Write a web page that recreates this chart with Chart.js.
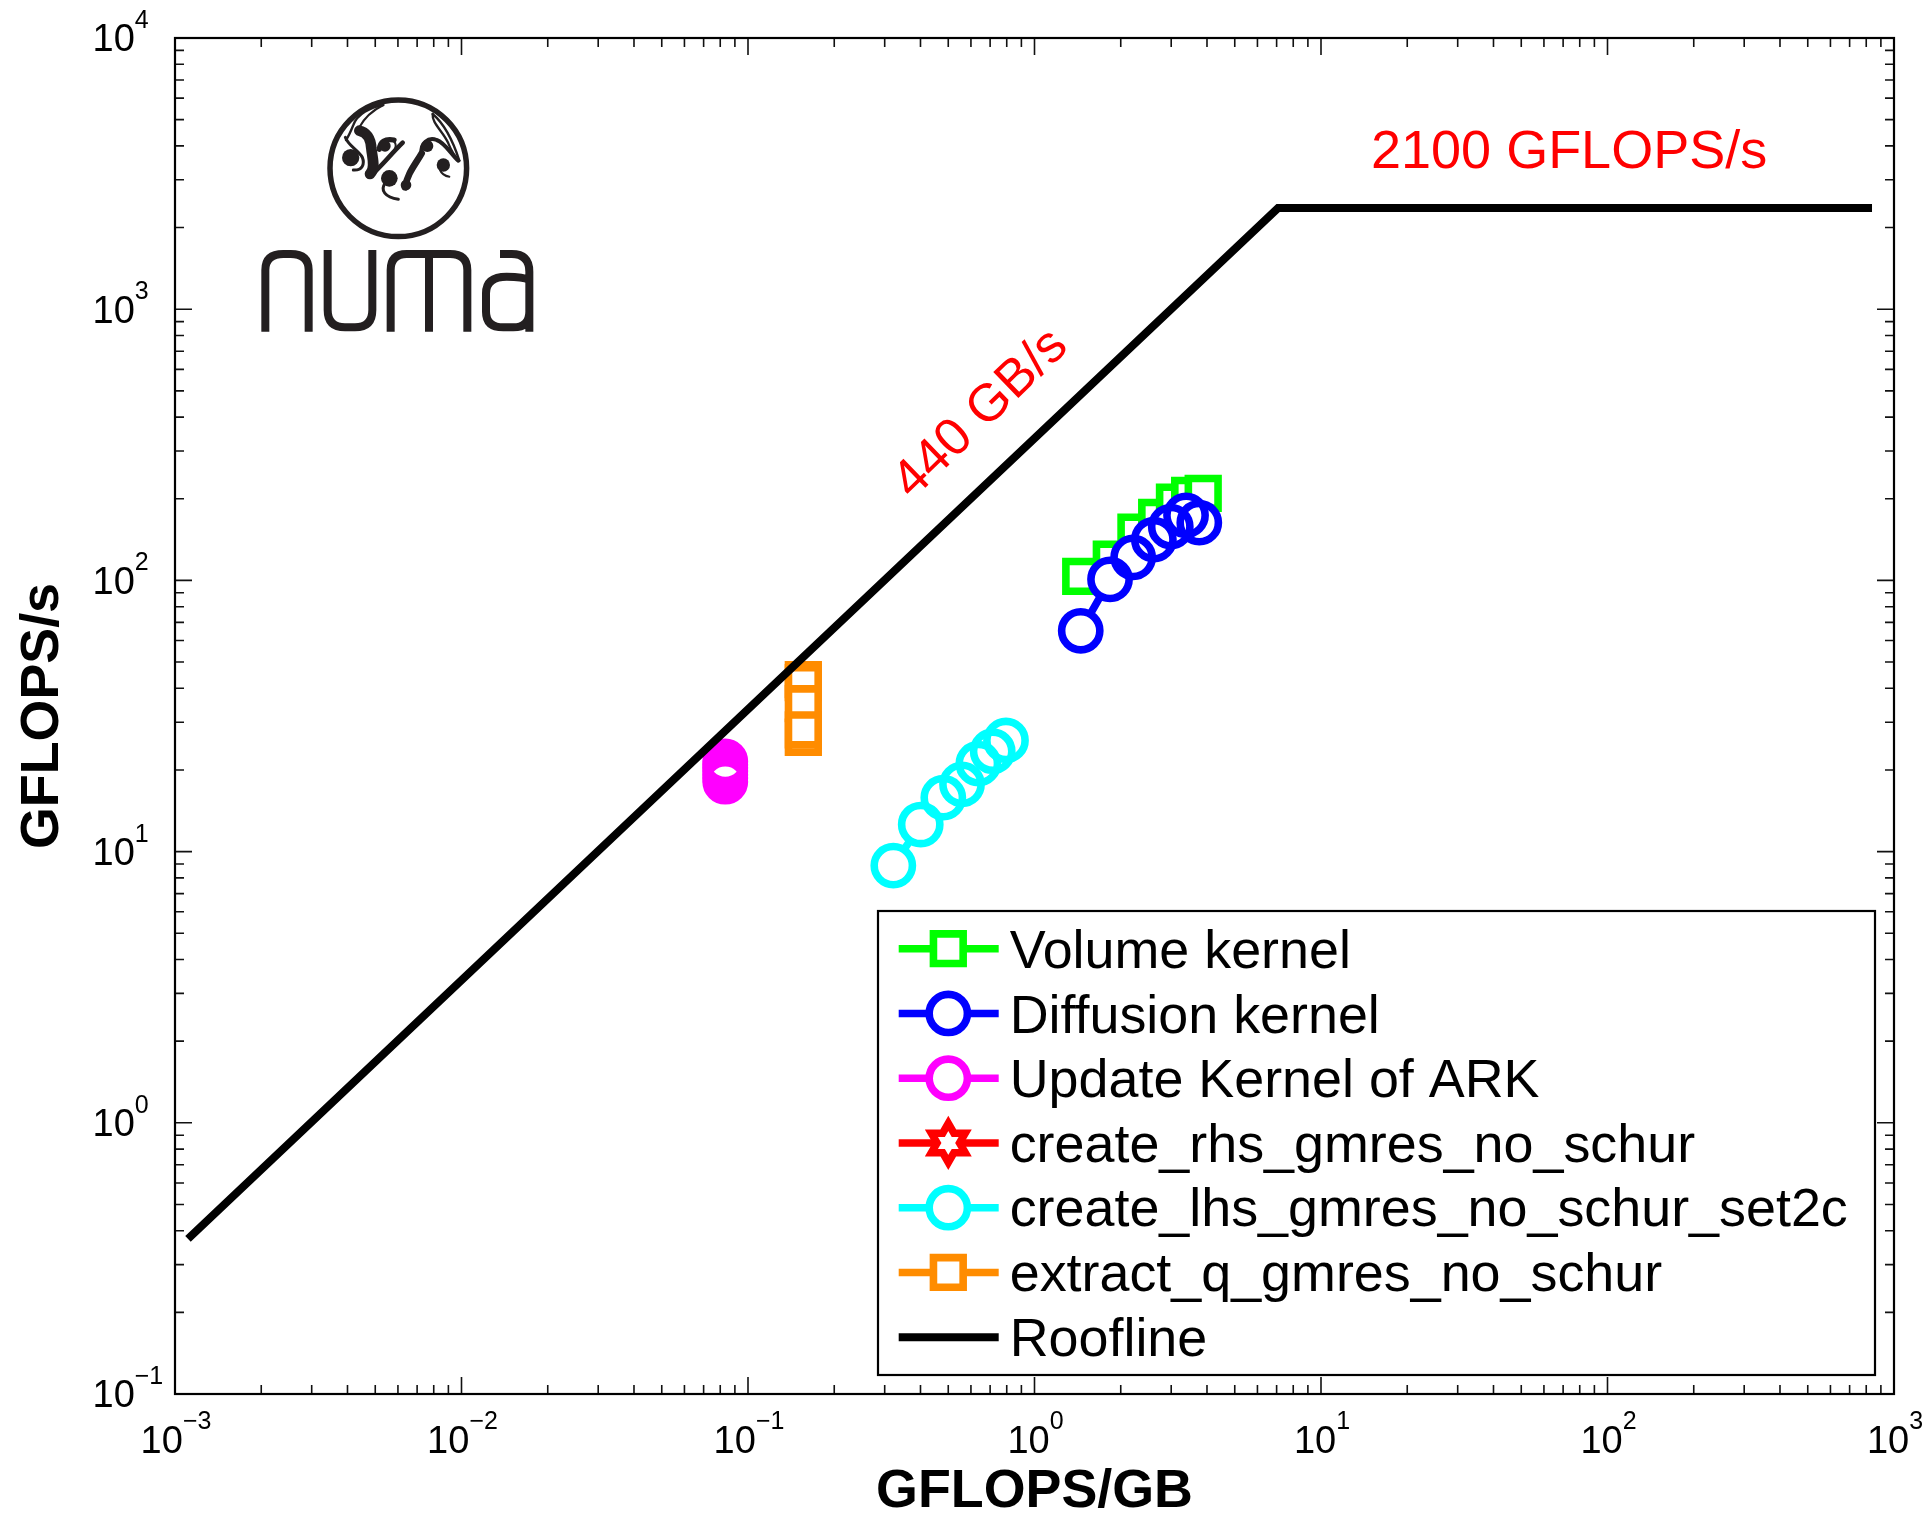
<!DOCTYPE html>
<html lang="en">
<head>
    <meta charset="UTF-8">
    <title>Roofline</title>
    <script src="https://cdn.jsdelivr.net/npm/chart.js"></script>
    <style>
        body {
            margin: 0;
            background: white;
        }
    </style>
</head>
<body>
    <canvas id="roofline" width="1927" height="1515"></canvas>

    <script>
        const volumeX = [1.45, 1.854, 2.26, 2.67, 3.08, 3.48, 3.88];
        const volumeY = [103.5, 119.8, 150.7, 170.8, 194.5, 205.9, 209.4];
        const diffusionX = [1.45, 1.835, 2.21, 2.61, 2.99, 3.38, 3.76];
        const diffusionY = [65.2, 100.9, 121.6, 141.3, 157.8, 173.7, 163.3];
        const updateX = [0.0833, 0.0833, 0.0833, 0.0833, 0.0833, 0.0833, 0.0833];
        const updateY = [21.5, 20.9, 20.4, 19.8, 19.2, 18.7, 18.1];
        const rhsX = [];
        const rhsY = [];
        const lhsX = [0.3215, 0.4008, 0.4805, 0.5585, 0.6368, 0.7146, 0.7952];
        const lhsY = [8.88, 12.58, 15.82, 17.7, 21.1, 23.45, 25.7];
        const extractX = [0.156, 0.156, 0.156, 0.156, 0.156];
        const extractY = [43.1, 42.0, 35.1, 26.4, 28.1];
        const roofX = [0.00111, 7.08, 838];
        const roofY = [0.373, 2360, 2360];

        const xDecades = [1e-3, 1e-2, 1e-1, 1, 10, 100, 1000];
        const xExponents = ["\u22123", "\u22122", "\u22121", "0", "1", "2", "3"];
        const yDecades = [1e-1, 1, 10, 100, 1000, 10000];
        const yExponents = ["\u22121", "0", "1", "2", "3", "4"];
        const minorSteps = [2, 3, 4, 5, 6, 7, 8, 9];

        const seriesNames = ["Volume kernel", "Diffusion kernel", "Update Kernel of ARK",
            "create_rhs_gmres_no_schur", "create_lhs_gmres_no_schur_set2c",
            "extract_q_gmres_no_schur", "Roofline"];
        const seriesColors = ["#00ff00", "#0000ff", "#ff00ff", "#ff0000", "#00ffff", "#ff8c00", "#000000"];
        const seriesMarkers = ["rect", "circle", "circle", "star", "circle", "rect", null];

        const fontName = '"Liberation Sans", Arial, sans-serif';
        const LINE_W = 7.6;
        const ROOF_W = 8;
        const CIRCLE_R = 19.1;
        const SQUARE_R = 21;

        function toPoints(xs, ys) {
            return xs.map(function (x, i) { return { x: x, y: ys[i] }; });
        }

        // Squares are drawn one after the other, each white face hides the one before.
        function squareSeries(i, xs, ys) {
            return [{
                label: seriesNames[i],
                data: toPoints(xs, ys),
                borderColor: seriesColors[i],
                borderWidth: LINE_W,
                pointStyle: "rect",
                pointRadius: SQUARE_R,
                pointBackgroundColor: "white",
                pointBorderColor: seriesColors[i],
                pointBorderWidth: LINE_W,
                order: 100 - 2 * i
            }];
        }

        // Circles: line and white faces first, then all the rings on top.
        function circleSeries(i, xs, ys) {
            const pts = toPoints(xs, ys);
            return [{
                label: seriesNames[i],
                data: pts,
                borderColor: seriesColors[i],
                borderWidth: LINE_W,
                pointRadius: CIRCLE_R,
                pointBackgroundColor: "white",
                pointBorderWidth: 0,
                order: 100 - 2 * i
            }, {
                label: seriesNames[i] + " markers",
                data: pts,
                showLine: false,
                pointRadius: CIRCLE_R,
                pointBackgroundColor: "transparent",
                pointBorderColor: seriesColors[i],
                pointBorderWidth: LINE_W,
                order: 99 - 2 * i
            }];
        }

        const datasets = [].concat(
            squareSeries(0, volumeX, volumeY),
            circleSeries(1, diffusionX, diffusionY),
            circleSeries(2, updateX, updateY),
            circleSeries(3, rhsX, rhsY),
            circleSeries(4, lhsX, lhsY),
            squareSeries(5, extractX, extractY),
            [{
                label: seriesNames[6],
                data: toPoints(roofX, roofY),
                borderColor: seriesColors[6],
                borderWidth: ROOF_W,
                borderCapStyle: "butt",
                borderJoinStyle: "miter",
                pointRadius: 0,
                order: 80
            }]
        );

        function logTicks(decades) {
            const ticks = [];
            decades.forEach(function (d, i) {
                ticks.push({ value: d, major: true });
                if (i < decades.length - 1) {
                    minorSteps.forEach(function (m) { ticks.push({ value: d * m, major: false }); });
                }
            });
            return ticks;
        }

        // Box round the plot with inward ticks on all four sides
        function drawFrame(chart) {
            const ctx = chart.ctx;
            const a = chart.chartArea;
            ctx.save();
            ctx.strokeStyle = "#111";
            ctx.lineWidth = 1.6;
            ctx.beginPath();
            chart.scales.x.ticks.forEach(function (t) {
                const px = chart.scales.x.getPixelForValue(t.value);
                const len = t.major ? 17 : 9;
                ctx.moveTo(px, a.bottom);
                ctx.lineTo(px, a.bottom - len);
                ctx.moveTo(px, a.top);
                ctx.lineTo(px, a.top + len);
            });
            chart.scales.y.ticks.forEach(function (t) {
                const py = chart.scales.y.getPixelForValue(t.value);
                const len = t.major ? 17 : 9;
                ctx.moveTo(a.left, py);
                ctx.lineTo(a.left + len, py);
                ctx.moveTo(a.right, py);
                ctx.lineTo(a.right - len, py);
            });
            ctx.stroke();
            ctx.strokeStyle = "#000";
            ctx.lineWidth = 2.2;
            ctx.strokeRect(a.left, a.top, a.right - a.left, a.bottom - a.top);
            ctx.restore();
        }

        function drawPower(ctx, x, y, exponent) {
            ctx.font = "38px " + fontName;
            ctx.fillText("10", x, y);
            const w = ctx.measureText("10").width;
            ctx.font = "25px " + fontName;
            ctx.fillText(exponent, x + w, y - 23.5);
        }

        function drawTickLabels(chart) {
            const ctx = chart.ctx;
            ctx.save();
            ctx.fillStyle = "#000";
            ctx.textAlign = "left";
            ctx.textBaseline = "alphabetic";
            xDecades.forEach(function (d, i) {
                ctx.font = "25px " + fontName;
                const expW = ctx.measureText(xExponents[i]).width;
                ctx.font = "38px " + fontName;
                const w = ctx.measureText("10").width + expW;
                drawPower(ctx, chart.scales.x.getPixelForValue(d) - w / 2 + 1, 1452.7, xExponents[i]);
            });
            yDecades.forEach(function (d, i) {
                drawPower(ctx, 92.5, chart.scales.y.getPixelForValue(d) + 13.4, yExponents[i]);
            });
            ctx.restore();
        }

        function drawStar(ctx, x, y) {
            const outer = 19.5;
            const inner = outer / Math.sqrt(3);
            ctx.beginPath();
            for (let k = 0; k < 12; k++) {
                const r = k % 2 === 0 ? outer : inner;
                const ang = -Math.PI / 2 + k * Math.PI / 6;
                ctx.lineTo(x + r * Math.cos(ang), y + r * Math.sin(ang));
            }
            ctx.closePath();
            ctx.fillStyle = "white";
            ctx.fill();
            ctx.miterLimit = 10;
            ctx.stroke();
        }

        function drawLegend(chart) {
            const ctx = chart.ctx;
            ctx.save();
            ctx.fillStyle = "white";
            ctx.fillRect(878, 911, 997, 464);
            ctx.strokeStyle = "#000";
            ctx.lineWidth = 2.2;
            ctx.strokeRect(878, 911, 997, 464);

            seriesNames.forEach(function (name, i) {
                const y = 948.7 + i * 64.75;
                ctx.strokeStyle = seriesColors[i];
                ctx.lineWidth = i === 6 ? ROOF_W : LINE_W;
                ctx.beginPath();
                ctx.moveTo(898.7, y);
                ctx.lineTo(998.7, y);
                ctx.stroke();

                const marker = seriesMarkers[i];
                if (marker === "star") {
                    drawStar(ctx, 948.3, y);
                } else if (marker) {
                    ctx.fillStyle = "white";
                    Chart.helpers.drawPoint(ctx, {
                        pointStyle: marker,
                        radius: marker === "rect" ? SQUARE_R : CIRCLE_R,
                        rotation: 0,
                        borderWidth: LINE_W
                    }, 948.3, y);
                }

                ctx.fillStyle = "#000";
                ctx.font = "53.85px " + fontName;
                ctx.textAlign = "left";
                ctx.textBaseline = "alphabetic";
                ctx.fillText(name, 1009.7, 968 + i * 64.6);
            });
            ctx.restore();
        }

        function drawNotes(chart) {
            const ctx = chart.ctx;
            ctx.save();
            ctx.fillStyle = "#ff0000";
            ctx.font = "54px " + fontName;
            ctx.textBaseline = "alphabetic";
            ctx.textAlign = "left";
            ctx.fillText("2100 GFLOPS/s", 1371, 168);
            ctx.translate(981, 414);
            ctx.rotate(-44 * Math.PI / 180);
            ctx.font = "52.5px " + fontName;
            ctx.textAlign = "center";
            ctx.textBaseline = "middle";
            ctx.fillText("440 GB/s", 0, 0);
            ctx.restore();
        }

        // NUMA logo, hand traced. Letters are in 3x coordinates from (230,80), swirl from (320,90)
        const logoLetters = [
            "M106 755 V570 Q106 522 160 522 H182 Q236 522 236 570 V755",
            "M293 510 V690 Q293 742 345 742 H375 Q427 742 427 690 V510",
            "M482 755 V570 Q482 522 530 522 H660 Q712 522 712 570 V755 M597 522 V755",
            "M898 755 V575 Q898 522 845 522 H810 M898 600 Q880 590 830 590 Q768 590 768 640 V695 Q768 742 820 742 H850 Q898 742 898 695"
        ];
        const swirlStrokes = [
            ["M190 45 C150 52 112 72 100 105 C92 125 85 140 78 150", 7],
            ["M190 45 C160 60 135 80 118 112", 6],
            ["M118 122 C138 125 152 145 154 175 C157 205 168 235 150 252", 32],
            ["M76 142 C85 168 112 178 127 202 C135 222 127 242 100 240", 9],
            ["M150 258 C175 240 210 195 248 158", 14],
            ["M178 178 C180 155 195 145 222 150", 16],
            ["M212 150 C232 155 230 172 218 188", 6],
            ["M195 280 C180 300 195 322 235 328", 9],
            ["M255 292 C262 250 285 225 305 190", 20],
            ["M305 190 C300 160 325 140 350 150 C375 158 395 195 415 212", 12],
            ["M338 72 C335 100 370 125 385 160 C395 185 405 200 418 212", 7],
            ["M338 72 C365 95 395 140 418 212", 7],
            ["M360 240 C365 252 375 258 388 260", 6]
        ];
        const swirlBlobs = [[92, 203, 26], [195, 168, 17], [208, 265, 25], [258, 285, 16], [322, 168, 18], [370, 225, 20]];

        function drawLogo(chart) {
            const ctx = chart.ctx;
            ctx.save();
            ctx.strokeStyle = "#231f20";
            ctx.fillStyle = "#231f20";
            ctx.lineWidth = 5.5;
            ctx.beginPath();
            ctx.arc(398.3, 168.3, 68.3, 0, Math.PI * 2);
            ctx.stroke();

            ctx.save();
            ctx.translate(230, 80);
            ctx.scale(1 / 3, 1 / 3);
            ctx.lineWidth = 24;
            logoLetters.forEach(function (p) { ctx.stroke(new Path2D(p)); });
            ctx.restore();

            ctx.save();
            ctx.translate(320, 90);
            ctx.scale(1 / 3, 1 / 3);
            ctx.lineCap = "round";
            swirlStrokes.forEach(function (s) {
                ctx.lineWidth = s[1];
                ctx.stroke(new Path2D(s[0]));
            });
            swirlBlobs.forEach(function (b) {
                ctx.beginPath();
                ctx.arc(b[0], b[1], b[2], 0, Math.PI * 2);
                ctx.fill();
            });
            ctx.restore();
            ctx.restore();
        }

        const decorations = {
            id: "decorations",
            afterDatasetsDraw: function (chart) {
                drawFrame(chart);
                drawTickLabels(chart);
                drawLogo(chart);
                drawNotes(chart);
                drawLegend(chart);
            }
        };

        new Chart(document.getElementById("roofline").getContext("2d"), {
            type: "line",
            data: { datasets: datasets },
            plugins: [decorations],
            options: {
                responsive: false,
                animation: false,
                parsing: false,
                layout: { padding: { top: 38, right: 33, left: 0, bottom: 0 } },
                plugins: { legend: { display: false }, tooltip: { enabled: false } },
                scales: {
                    x: {
                        type: "logarithmic",
                        min: 1e-3,
                        max: 1e3,
                        grid: { display: false },
                        border: { display: false },
                        ticks: { display: false, autoSkip: false },
                        afterBuildTicks: function (scale) { scale.ticks = logTicks(xDecades); },
                        afterFit: function (scale) { scale.height = 121; },
                        title: {
                            display: true,
                            text: "GFLOPS/GB",
                            color: "#000",
                            font: { family: fontName, size: 53.8, weight: "bold", lineHeight: 0.8 },
                            padding: { top: 0, bottom: 1 }
                        }
                    },
                    y: {
                        type: "logarithmic",
                        min: 1e-1,
                        max: 1e4,
                        grid: { display: false },
                        border: { display: false },
                        ticks: { display: false, autoSkip: false },
                        afterBuildTicks: function (scale) { scale.ticks = logTicks(yDecades); },
                        afterFit: function (scale) { scale.width = 175; },
                        title: {
                            display: true,
                            text: "GFLOPS/s",
                            color: "#000",
                            font: { family: fontName, size: 53.8, weight: "bold", lineHeight: 0.8 },
                            padding: { top: 21.5, bottom: 0 }
                        }
                    }
                }
            }
        });
    </script>
</body>
</html>
